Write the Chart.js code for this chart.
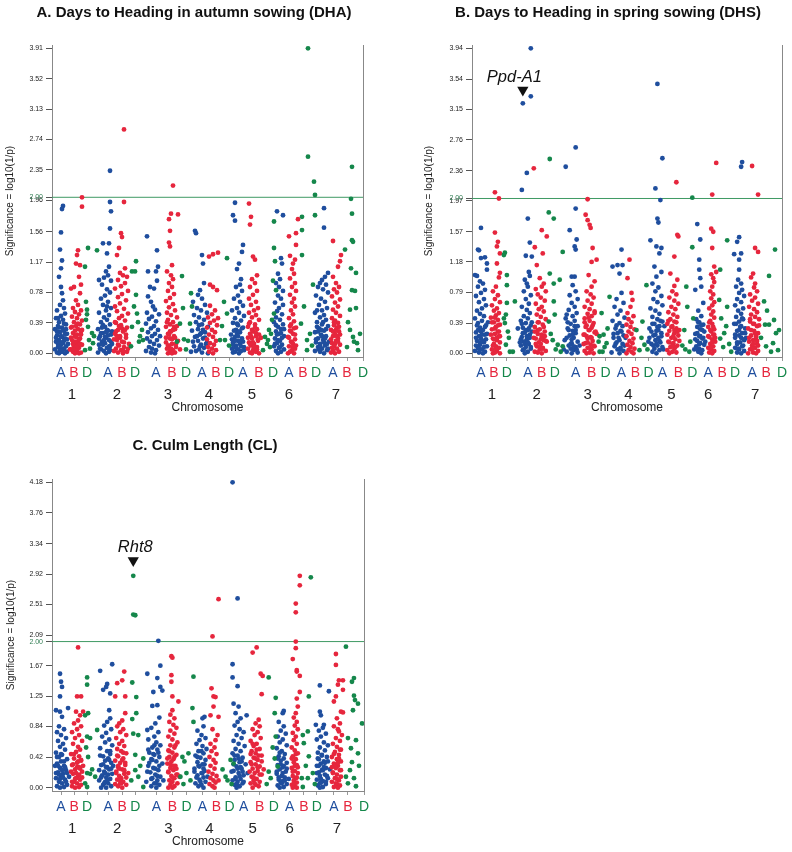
<!DOCTYPE html>
<html>
<head>
<meta charset="utf-8">
<script src="https://cdn.jsdelivr.net/npm/chart.js@4.4.1/dist/chart.umd.min.js"></script>
<style>
html, body { margin: 0; padding: 0; background: #fff; overflow: hidden; width: 792px; height: 852px; }
canvas { position: absolute; }
</style>
</head>
<body>
<canvas id="dhaChart" width="400" height="420" style="left:-6px;top:0"></canvas>
<canvas id="dhsChart" width="400" height="420" style="left:408px;top:0"></canvas>
<canvas id="clChart" width="400" height="432" style="left:5px;top:420px"></canvas>
<script>
// x axis: cumulative map position along the 21 chromosomes (arbitrary units)
const POS_MIN = 0, POS_MAX = 311;
const THRESHOLD = 2.00;

const genomes = ['A', 'B', 'D'];
const chromosomes = ['1', '2', '3', '4', '5', '6', '7'];
const genomePos = [9, 22, 35, 56, 70, 83, 104, 120, 134, 150, 164, 177, 191, 207, 221, 237, 251, 264, 281, 295, 311];
const chromPos = [20, 65, 116, 157, 200, 237, 284];

const dhaTicks = [0.00, 0.39, 0.78, 1.17, 1.56, 1.96, 2.00, 2.35, 2.74, 3.13, 3.52, 3.91];
const dhsTicks = [0.00, 0.39, 0.79, 1.18, 1.57, 1.97, 2.00, 2.36, 2.76, 3.15, 3.54, 3.94];
const clTicks = [0.00, 0.42, 0.84, 1.25, 1.67, 2.00, 2.09, 2.51, 2.92, 3.34, 3.76, 4.18];

// [position, log10(1/p)] -- DHA
const dhaA = [
  [11,1.89],[10,1.85],[9,1.55],[8,1.33],[10,1.19],[9,1.09],[7,.98],[9,.85],[10,.77],[11,.68],[8,.62],[12,.58],[5,.55],[13,.51],[9,.48],[4,.45],[11,.43],[7,.40],[14,.37],[6,.35],[10,.33],[3,.31],[12,.29],[8,.27],[15,.25],[5,.23],[10,.21],[13,.19],[7,.17],[4,.15],[11,.13],[9,.11],[14,.09],[6,.08],[12,.06],[3,.05],[8,.04],[10,.02],[15,.02],[5,.01],[13,.00],[7,.00],[16,.12],[11,.30],[6,.45],
  [4,.20],[6,.12],[9,.22],[12,.16],[14,.31],[5,.28],[8,.09],[11,.05],[13,.25],[7,.33],[10,.14],[15,.18],[12,.38],[9,.03],
  [58,2.34],[58,1.94],[59,1.82],[58,1.60],[51,1.41],[57,1.41],[55,1.28],[57,1.11],[47,.94],[54,1.05],[56,1.00],[52,.97],[59,.93],[50,.88],[55,.82],[58,.78],[53,.74],[49,.70],[56,.66],[51,.62],[59,.58],[54,.55],[47,.52],[57,.49],[52,.46],[55,.43],[49,.40],[58,.37],[53,.34],[46,.31],[56,.29],[51,.26],[59,.24],[48,.22],[54,.20],[57,.17],[50,.15],[53,.13],[47,.11],[58,.09],[55,.07],[49,.05],[52,.03],[57,.02],[46,.01],[54,.00],[60,.12],[51,.36],[55,.60],
  [47,.19],[49,.26],[51,.11],[53,.21],[55,.30],[57,.09],[59,.15],[48,.06],[50,.33],[52,.17],[56,.23],[58,.04],[54,.27],[60,.28],
  [95,1.50],[105,1.32],[96,1.05],[104,1.05],[106,1.11],[98,.85],[102,.83],[96,.73],[101,.60],[105,.93],[99,.66],[103,.56],[95,.52],[107,.50],[100,.47],[97,.44],[104,.41],[94,.38],[102,.35],[99,.32],[106,.30],[96,.27],[103,.25],[100,.22],[95,.19],[105,.17],[98,.15],[102,.12],[107,.10],[97,.08],[100,.06],[104,.04],[94,.03],[99,.01],[103,.00],[108,.22],
  [143,1.57],[144,1.54],[150,1.26],[151,1.15],[152,.90],[148,.81],[146,.75],[150,.70],[141,.66],[153,.62],[145,.58],[149,.55],[155,.52],[142,.49],[147,.46],[152,.43],[144,.40],[150,.37],[156,.34],[146,.31],[140,.29],[153,.27],[148,.24],[143,.21],[151,.19],[146,.16],[155,.14],[149,.11],[142,.09],[152,.07],[147,.05],[144,.03],[150,.01],[156,.00],[139,.02],
  [145,.22],[148,.09],[151,.30],[154,.12],[147,.36],[153,.20],[141,.15],[149,.26],
  [183,1.93],[181,1.77],[183,1.70],[190,1.30],[191,1.39],[187,1.15],[188,.88],[185,1.08],[189,.95],[184,.85],[190,.80],[186,.74],[182,.70],[188,.66],[191,.61],[185,.58],[180,.55],[187,.52],[192,.48],[183,.45],[189,.42],[181,.39],[186,.36],[191,.33],[184,.30],[188,.27],[179,.24],[183,.21],[190,.19],[186,.16],[181,.14],[188,.12],[184,.10],[192,.08],[180,.06],[186,.05],[189,.03],[183,.02],[187,.00],[181,.01],[191,.15],[185,.25],
  [180,.18],[182,.29],[184,.07],[186,.22],[188,.15],[190,.32],[192,.04],[181,.11],[185,.38],[187,.28],[189,.09],[183,.16],
  [225,1.82],[231,1.77],[229,1.22],[230,1.15],[227,.85],[226,1.02],[228,.95],[224,.90],[231,.80],[226,.74],[229,.70],[223,.65],[231,.62],[227,.58],[225,.54],[230,.50],[224,.46],[228,.43],[222,.40],[231,.37],[226,.34],[229,.31],[224,.28],[227,.25],[232,.22],[223,.19],[228,.16],[225,.13],[230,.11],[222,.09],[227,.07],[232,.05],[224,.03],[229,.02],[226,.00],
  [223,.12],[225,.24],[228,.08],[230,.20],[232,.31],[226,.17],[224,.36],[229,.26],
  [272,1.86],[272,1.61],[276,1.03],[270,.94],[273,.98],[268,.90],[274,.88],[266,.85],[271,.82],[276,.78],[264,.74],[269,.70],[273,.66],[267,.62],[275,.58],[270,.55],[263,.52],[272,.49],[268,.46],[274,.43],[265,.40],[270,.37],[276,.35],[267,.32],[272,.29],[263,.27],[269,.24],[274,.22],[266,.19],[271,.17],[264,.14],[268,.12],[273,.10],[266,.08],[270,.06],[275,.04],[263,.03],[268,.02],[272,.00],[277,.15],[265,.55],
  [264,.18],[266,.28],[268,.09],[270,.22],[272,.14],[274,.31],[276,.06],[265,.34],[267,.05],[271,.40],[273,.19],[269,.30],[275,.12]
];
const dhaB = [
  [30,2.00],[30,1.88],[26,1.32],[25,1.26],[24,1.15],[28,1.13],[27,.98],[29,.88],[19,.83],[28,.77],[24,.68],[22,.85],[26,.62],[21,.58],[29,.55],[23,.53],[27,.50],[20,.47],[25,.45],[30,.42],[22,.40],[28,.37],[24,.35],[19,.33],[26,.31],[29,.28],[21,.26],[25,.24],[23,.22],[28,.19],[20,.17],[26,.15],[24,.13],[30,.11],[22,.09],[27,.07],[19,.05],[25,.04],[21,.02],[29,.01],[23,.00],[27,.00],[18,.05],
  [19,.20],[21,.12],[23,.29],[25,.09],[27,.18],[29,.24],[20,.34],[22,.05],[24,.21],[26,.38],[28,.12],[30,.30],[23,.15],
  [72,2.87],[72,1.94],[69,1.54],[70,1.49],[67,1.35],[65,1.26],[73,1.09],[68,1.03],[71,1.00],[75,.98],[66,.94],[73,.90],[69,.86],[63,.83],[76,.80],[70,.76],[66,.72],[74,.68],[68,.64],[63,.60],[72,.57],[65,.54],[76,.51],[70,.48],[67,.45],[73,.42],[64,.39],[69,.36],[75,.33],[66,.30],[71,.28],[63,.25],[68,.22],[74,.20],[65,.17],[70,.15],[77,.12],[67,.10],[72,.08],[64,.06],[69,.04],[75,.02],[66,.01],[71,.00],[62,.03],
  [62,.18],[64,.28],[66,.11],[68,.20],[70,.32],[72,.14],[74,.24],[76,.06],[63,.40],[67,.35],[71,.04],[73,.30],[65,.22],
  [121,2.15],[119,1.79],[117,1.72],[126,1.78],[118,1.57],[117,1.42],[118,1.37],[120,1.13],[115,1.05],[119,1.00],[121,.95],[117,.90],[120,.85],[116,.80],[122,.76],[118,.71],[114,.67],[121,.63],[117,.59],[123,.55],[115,.52],[119,.49],[125,.46],[116,.43],[121,.40],[118,.37],[114,.34],[123,.31],[119,.28],[116,.25],[122,.22],[118,.19],[126,.16],[114,.14],[120,.12],[117,.10],[124,.08],[115,.06],[121,.04],[118,.02],[123,.01],[116,.00],[120,.00],[128,.05],
  [114,.20],[116,.10],[118,.28],[120,.18],[122,.34],[124,.12],[115,.40],[117,.24],[119,.06],[121,.30],[123,.20],[125,.35],
  [157,1.24],[161,1.27],[166,1.29],[158,.88],[161,.85],[165,.81],[158,.61],[163,.55],[160,.50],[156,.46],[162,.42],[158,.39],[165,.36],[155,.33],[160,.30],[163,.27],[157,.24],[161,.21],[155,.18],[164,.16],[158,.13],[162,.11],[156,.08],[160,.06],[164,.04],[157,.02],[161,.00],[166,.45],
  [197,1.92],[199,1.75],[198,1.65],[201,1.24],[203,1.20],[205,1.00],[200,.95],[203,.90],[198,.85],[205,.80],[201,.75],[197,.70],[204,.66],[199,.62],[206,.58],[202,.55],[197,.52],[204,.49],[200,.46],[207,.43],[198,.40],[203,.37],[196,.34],[205,.31],[201,.28],[198,.25],[204,.22],[200,.19],[206,.16],[197,.14],[202,.12],[199,.10],[205,.08],[196,.06],[201,.04],[204,.02],[198,.01],[207,.00],[200,.00],[209,.20],
  [196,.20],[198,.12],[200,.30],[202,.08],[204,.26],[206,.18],[197,.38],[199,.22],[201,.14],[203,.33],[205,.05],[207,.24],
  [237,1.50],[246,1.72],[244,1.54],[238,1.25],[244,1.39],[241,1.15],[243,1.20],[240,1.08],[242,1.02],[238,.96],[243,.90],[240,.85],[244,.80],[238,.75],[242,.70],[240,.65],[243,.60],[239,.55],[241,.50],[237,.45],[242,.41],[239,.37],[244,.33],[238,.29],[241,.25],[236,.21],[243,.18],[239,.15],[241,.12],[237,.09],[243,.06],[240,.04],[238,.02],[242,.00],[236,.00],
  [237,.20],[239,.28],[241,.08],[243,.24],[238,.35],[240,.14],[242,.32],[244,.10],
  [281,1.44],[289,1.26],[288,1.18],[286,1.11],[281,.98],[284,.90],[287,.85],[282,.82],[285,.78],[280,.73],[288,.69],[283,.65],[286,.60],[281,.56],[284,.52],[288,.48],[280,.45],[283,.42],[286,.39],[282,.36],[285,.33],[279,.30],[287,.28],[283,.25],[281,.22],[286,.19],[284,.16],[280,.13],[288,.11],[282,.09],[285,.06],[281,.04],[287,.02],[283,.00],[279,.01],
  [279,.18],[281,.28],[283,.12],[285,.22],[287,.34],[280,.07],[282,.40],[284,.30],[286,.15],[288,.24]
];
const dhaD = [
  [36,1.35],[45,1.32],[33,1.11],[34,.66],[35,.56],[34,.43],[36,.34],[40,.26],[37,.17],[41,.13],[33,.04],[38,.06],[35,.50],[42,.22],
  [80,1.05],[83,1.05],[84,1.18],[84,.75],[82,.60],[85,.51],[80,.34],[90,.30],[91,.17],[87,.15],[79,.09],[86,.40],[88,.22],
  [130,.99],[131,.58],[128,.38],[132,.18],[125,.15],[136,.16],[134,.05],[139,.77],[138,.38],[140,.60],
  [175,1.22],[172,.66],[175,.51],[168,.17],[173,.17],[170,.35],[177,.10],
  [213,.21],[216,.17],[211,.04],[215,.12],[218,.08],[222,1.69],[222,1.35],[223,1.18],[221,.93],[224,.81],[222,.51],[220,.43],[219,.25],[217,.30],
  [250,1.75],[250,1.58],[250,1.26],[249,.38],[255,.04],[256,3.91],[256,2.52],[262,2.20],[263,2.03],[263,1.77],[261,.88],[255,.17],[252,.60],[258,.25],[260,.10],
  [300,2.39],[299,1.98],[300,1.79],[300,1.45],[301,1.43],[293,1.33],[299,1.09],[304,1.03],[300,.81],[303,.80],[298,.56],[304,.58],[298,.30],[301,.21],[305,.13],[306,.04],[296,.40],[302,.15],[295,.08],[308,.25]
];

// DHS
const dhsA = [
  [9,1.62],[6,1.34],[7,1.33],[9,1.23],[13,1.24],[15,1.16],[3,1.01],[5,1.00],[15,1.08],[8,.93],[11,.90],[6,.86],[13,.82],[9,.78],[4,.74],[12,.70],[7,.66],[14,.62],[10,.58],[5,.55],[8,.51],[12,.48],[3,.45],[10,.42],[6,.39],[14,.36],[8,.33],[11,.30],[4,.27],[13,.24],[7,.22],[9,.19],[5,.16],[12,.14],[8,.11],[15,.09],[6,.07],[10,.05],[3,.03],[13,.02],[7,.01],[11,.00],[4,.10],[16,.40],
  [4,.20],[6,.30],[8,.14],[10,.24],[12,.08],[14,.18],[5,.36],[7,.06],[9,.28],[11,.16],[13,.34],[15,.25],
  [59,3.94],[59,3.32],[51,3.23],[55,2.33],[50,2.11],[56,1.74],[58,1.43],[54,1.26],[60,1.25],[57,1.05],[55,.90],[46,.32],[58,1.00],[53,.95],[56,.86],[52,.80],[59,.75],[54,.70],[57,.64],[50,.60],[55,.56],[58,.52],[52,.48],[56,.45],[49,.42],[54,.39],[59,.36],[51,.33],[56,.30],[53,.27],[58,.24],[50,.21],[55,.18],[52,.15],[57,.12],[49,.10],[54,.08],[59,.06],[51,.04],[56,.02],[53,.00],[48,.14],[60,.40],
  [49,.18],[51,.26],[53,.12],[55,.22],[57,.32],[59,.08],[50,.38],[52,.05],[54,.30],[56,.14],[58,.20],[60,.28],
  [94,2.41],[104,2.66],[104,1.87],[98,1.59],[105,1.47],[103,1.38],[104,1.34],[100,.99],[103,.99],[95,.50],[101,.88],[104,.80],[98,.75],[106,.70],[100,.65],[103,.60],[97,.56],[105,.52],[101,.48],[94,.45],[103,.42],[99,.38],[106,.35],[96,.32],[101,.29],[104,.26],[98,.23],[102,.20],[93,.17],[106,.15],[100,.13],[97,.10],[104,.08],[99,.06],[102,.04],[95,.02],[106,.01],[100,.00],[92,.05],[108,.10],
  [95,.20],[97,.30],[99,.12],[101,.24],[103,.35],[105,.05],[96,.40],[100,.18],[102,.09],[104,.30],
  [150,1.34],[141,1.12],[146,1.14],[151,1.14],[148,1.03],[150,.78],[145,.70],[152,.65],[143,.60],[149,.55],[146,.50],[153,.46],[141,.42],[148,.39],[151,.35],[144,.32],[149,.29],[146,.26],[152,.23],[142,.20],[148,.17],[145,.14],[151,.12],[143,.09],[149,.07],[146,.05],[152,.03],[140,.01],[148,.00],[154,.20],
  [142,.25],[144,.12],[147,.20],[150,.28],[153,.10],[145,.36],[149,.05],
  [186,3.48],[191,2.52],[184,2.13],[189,1.98],[186,1.74],[187,1.69],[179,1.46],[185,1.38],[190,1.36],[183,1.12],[185,.99],[188,1.29],[190,1.05],[181,.90],[187,.85],[184,.80],[190,.74],[182,.70],[186,.66],[191,.62],[179,.58],[184,.55],[188,.51],[181,.47],[186,.44],[191,.41],[183,.38],[188,.35],[178,.32],[185,.29],[190,.26],[182,.23],[187,.20],[184,.17],[189,.14],[180,.12],[186,.10],[191,.08],[183,.06],[188,.04],[181,.02],[185,.00],[177,.15],[193,.35],
  [178,.20],[180,.28],[182,.10],[184,.24],[186,.34],[188,.16],[190,.22],[192,.05],[181,.38],[185,.12],[187,.30],[189,.42],
  [226,1.67],[229,1.47],[228,1.21],[228,1.08],[229,.97],[230,.86],[224,.82],[232,.65],[227,.55],[230,.48],[225,.44],[228,.40],[232,.37],[226,.34],[229,.31],[233,.28],[224,.25],[228,.22],[231,.19],[226,.16],[229,.13],[233,.11],[225,.09],[228,.06],[231,.04],[227,.02],[230,.00],[234,.15],[223,.05],
  [224,.18],[226,.26],[228,.12],[230,.36],[232,.20],[225,.06],[227,.40],[231,.30],[229,.22],
  [271,2.47],[270,2.41],[268,1.50],[266,1.44],[270,1.29],[263,1.28],[268,1.21],[268,1.08],[267,.95],[270,.90],[265,.86],[271,.82],[268,.78],[273,.74],[266,.70],[270,.66],[264,.62],[272,.58],[267,.55],[270,.51],[265,.47],[272,.44],[268,.41],[263,.38],[270,.35],[274,.32],[266,.29],[271,.26],[268,.23],[264,.20],[273,.17],[269,.14],[266,.12],[271,.09],[264,.07],[268,.05],[273,.03],[266,.01],[270,.00],[275,.20],
  [264,.24],[266,.14],[268,.30],[270,.20],[272,.10],[274,.26],[265,.38],[267,.06],[269,.34],[271,.45],[273,.18]
];
const dhsB = [
  [23,2.08],[27,2.00],[23,1.56],[26,1.44],[25,1.38],[28,1.29],[25,1.16],[28,1.04],[24,.86],[27,.98],[21,.80],[26,.75],[23,.70],[28,.66],[20,.62],[25,.58],[22,.55],[27,.52],[24,.49],[19,.46],[26,.43],[22,.40],[28,.37],[24,.34],[20,.31],[26,.28],[23,.25],[27,.22],[21,.19],[25,.17],[28,.14],[22,.12],[24,.09],[27,.07],[20,.05],[25,.03],[23,.01],[28,.00],[21,.00],
  [19,.24],[21,.10],[23,.32],[25,.20],[27,.28],[20,.40],[22,.18],[24,.06],[26,.36],[28,.22],[23,.46],
  [62,2.39],[70,1.59],[75,1.51],[63,1.37],[71,1.29],[65,1.14],[68,.97],[64,.83],[72,.90],[70,.86],[74,.80],[66,.76],[69,.72],[73,.68],[64,.64],[70,.60],[67,.57],[72,.54],[65,.50],[69,.47],[74,.44],[66,.40],[71,.37],[63,.34],[68,.31],[73,.28],[66,.25],[70,.22],[64,.19],[72,.17],[67,.14],[69,.12],[65,.09],[71,.07],[68,.05],[74,.03],[66,.01],[70,.00],[63,.02],[75,.15],
  [62,.20],[64,.12],[66,.30],[68,.08],[70,.24],[72,.34],[74,.16],[63,.28],[67,.40],[69,.18],[71,.06],[73,.22],
  [116,1.99],[114,1.79],[116,1.72],[118,1.66],[119,1.62],[121,1.36],[120,1.18],[125,1.21],[117,1.01],[120,.86],[123,.93],[115,.80],[119,.76],[122,.72],[116,.68],[120,.64],[113,.60],[118,.57],[123,.54],[116,.51],[120,.48],[113,.45],[118,.42],[122,.39],[115,.36],[120,.33],[117,.30],[123,.27],[113,.24],[119,.21],[116,.19],[121,.16],[114,.13],[119,.11],[123,.09],[116,.07],[120,.05],[113,.03],[118,.01],[122,.00],[115,.00],[125,.25],[112,.12],
  [112,.24],[114,.34],[116,.14],[118,.30],[120,.20],[122,.10],[124,.28],[113,.40],[117,.46],[119,.06],[121,.36],[123,.52],[115,.22],
  [158,1.21],[156,.97],[160,.78],[161,.69],[156,.52],[159,.60],[162,.48],[157,.44],[160,.40],[155,.37],[159,.34],[163,.31],[157,.28],[160,.25],[155,.22],[162,.19],[158,.16],[161,.13],[156,.11],[159,.08],[163,.06],[157,.04],[160,.02],[155,.00],[162,.00],
  [205,2.21],[206,1.53],[207,1.51],[203,1.25],[199,1.03],[203,.87],[206,.95],[201,.80],[205,.76],[198,.72],[203,.68],[207,.64],[200,.60],[204,.57],[197,.53],[202,.50],[206,.47],[199,.44],[203,.41],[196,.38],[201,.35],[205,.32],[198,.29],[203,.26],[207,.23],[200,.20],[204,.18],[197,.15],[202,.13],[206,.10],[199,.08],[203,.06],[196,.04],[201,.02],[205,.01],[198,.00],[208,.30],
  [196,.24],[198,.14],[200,.34],[202,.22],[204,.08],[206,.28],[208,.16],[197,.42],[201,.10],[205,.40],[203,.30],
  [245,2.46],[241,2.05],[240,1.61],[242,1.57],[241,1.36],[243,1.12],[242,.97],[240,1.02],[243,.92],[241,.86],[239,.80],[242,.76],[240,.71],[243,.66],[241,.62],[238,.58],[242,.54],[240,.50],[243,.46],[239,.42],[241,.38],[237,.34],[243,.31],[240,.28],[242,.24],[238,.21],[241,.18],[244,.15],[239,.12],[242,.09],[237,.07],[240,.05],[243,.03],[238,.01],[241,.00],[245,1.05],
  [237,.22],[239,.30],[241,.14],[243,.24],[238,.40],[240,.08],[242,.34],[244,.20],
  [281,2.42],[287,2.05],[284,1.36],[287,1.31],[282,1.03],[284,.90],[280,.98],[283,.85],[286,.80],[279,.76],[284,.72],[281,.68],[287,.64],[278,.60],[283,.57],[286,.53],[280,.50],[284,.47],[288,.44],[279,.41],[282,.38],[286,.35],[277,.32],[283,.29],[287,.26],[280,.23],[285,.20],[282,.17],[278,.15],[286,.12],[281,.10],[284,.07],[279,.05],[287,.03],[282,.01],[285,.00],[277,.00],
  [278,.20],[280,.30],[282,.12],[284,.26],[286,.16],[288,.36],[279,.44],[281,.06],[283,.38],[285,.22],[287,.10]
];
const dhsD = [
  [33,1.30],[32,1.27],[35,1.01],[35,.88],[35,.65],[34,.50],[33,.39],[36,.28],[34,.11],[38,.02],[43,.67],[41,.02],[37,.20],[32,.45],
  [78,2.51],[77,1.82],[82,1.74],[78,1.03],[82,.90],[91,1.31],[88,.95],[82,.67],[83,.50],[77,.41],[81,.17],[86,.11],[91,.09],[79,.25],[84,.05],[89,.02],
  [130,.52],[128,.22],[132,.24],[138,.73],[135,.13],[128,.02],[131,.02],[136,.32],[133,.08],[127,.15],
  [175,.88],[171,.41],[168,.04],[173,.11],[165,.30],[170,.20],[176,.05],
  [221,2.01],[221,1.37],[215,.86],[218,.02],[213,.30],[216,.60],[219,.15],[211,.10],[222,.45],[214,.05],
  [256,1.46],[249,1.08],[249,.19],[253,.26],[256,.60],[248,.69],[252,.08],[258,.12],[255,.35],[260,.02],[250,.45],
  [304,1.34],[298,1.00],[293,.67],[303,.43],[298,.37],[305,.26],[295,.09],[307,.04],[294,.37],[302,.13],[290,.20],[300,.02],[308,.30],[296,.55]
];

// CL
const clA = [
  [8,1.56],[9,1.45],[10,1.38],[8,1.25],[4,1.06],[8,1.04],[16,1.09],[10,.97],[7,.84],[12,.80],[5,.76],[9,.72],[14,.68],[6,.64],[11,.60],[8,.56],[13,.52],[4,.48],[10,.45],[7,.42],[15,.39],[9,.36],[5,.33],[12,.30],[8,.27],[14,.24],[6,.21],[11,.19],[9,.16],[4,.13],[13,.11],[7,.08],[10,.06],[15,.04],[5,.02],[12,.01],[8,.00],[3,.30],[17,.15],
  [4,.20],[6,.30],[8,.12],[10,.24],[12,.36],[14,.08],[5,.42],[7,.18],[9,.46],[11,.14],[13,.28],[15,.20],
  [48,1.60],[60,1.69],[55,1.42],[54,1.38],[58,1.29],[51,1.34],[57,1.06],[58,.95],[55,.90],[52,.85],[59,.80],[54,.75],[50,.70],[57,.66],[53,.62],[60,.58],[48,.54],[55,.50],[58,.46],[51,.43],[56,.40],[53,.37],[59,.34],[49,.31],[55,.28],[57,.25],[52,.22],[60,.19],[50,.17],[54,.14],[58,.12],[47,.10],[53,.08],[56,.06],[51,.04],[59,.02],[54,.00],[49,.00],[61,.30],
  [47,.24],[49,.14],[51,.32],[53,.20],[55,.10],[57,.38],[59,.26],[48,.44],[52,.06],[54,.28],[56,.18],[58,.50],
  [106,2.01],[95,1.56],[108,1.67],[105,1.50],[108,1.38],[110,1.33],[101,1.31],[105,1.13],[100,1.12],[107,.96],[95,.79],[103,.88],[99,.82],[106,.76],[102,.70],[96,.66],[104,.62],[108,.58],[100,.55],[105,.52],[97,.48],[102,.45],[107,.42],[99,.39],[104,.36],[110,.33],[96,.30],[101,.27],[106,.24],[98,.21],[103,.18],[108,.15],[100,.13],[105,.10],[94,.08],[102,.06],[107,.04],[99,.02],[104,.00],[111,.10],
  [95,.22],[97,.34],[99,.12],[101,.46],[103,.26],[105,.16],[107,.30],[96,.52],[100,.38],[104,.06],[106,.48],[102,.58],
  [152,.97],[150,.95],[151,.84],[145,.78],[149,.72],[153,.68],[147,.65],[144,.60],[150,.57],[154,.53],[146,.50],[151,.47],[143,.44],[148,.41],[153,.38],[145,.35],[150,.32],[147,.29],[142,.26],[152,.23],[149,.20],[145,.17],[151,.14],[147,.11],[153,.08],[143,.06],[149,.04],[146,.02],[151,.00],[155,.15],
  [142,.22],[144,.14],[146,.30],[148,.08],[150,.20],[152,.32],[145,.42],[149,.50],[151,.26],
  [180,4.18],[185,2.59],[180,1.69],[180,1.51],[185,1.39],[181,1.15],[186,1.11],[183,1.02],[194,.99],[185,.90],[188,.95],[182,.85],[187,.80],[191,.76],[184,.72],[189,.68],[181,.64],[186,.60],[192,.57],[183,.53],[188,.50],[180,.47],[185,.44],[190,.41],[182,.38],[187,.35],[193,.32],[184,.29],[189,.26],[181,.23],[186,.20],[191,.17],[183,.14],[188,.12],[180,.10],[185,.08],[190,.06],[182,.04],[187,.02],[184,.00],[195,.20],
  [179,.22],[181,.32],[183,.12],[185,.26],[187,.16],[189,.36],[191,.08],[182,.44],[186,.40],[188,.28],[184,.05],[190,.22],
  [231,1.05],[230,1.02],[226,.90],[231,.84],[228,.78],[233,.74],[225,.70],[230,.66],[227,.62],[234,.58],[224,.54],[229,.50],[232,.46],[226,.43],[231,.40],[228,.37],[234,.34],[225,.31],[230,.28],[227,.25],[233,.22],[224,.19],[229,.16],[232,.14],[226,.11],[230,.09],[228,.07],[234,.05],[225,.03],[231,.01],[227,.00],[236,.12],
  [224,.22],[226,.14],[228,.32],[230,.20],[232,.10],[234,.26],[225,.40],[229,.06],[231,.30],[227,.48],
  [267,1.40],[276,1.32],[267,1.04],[268,.99],[271,.86],[263,.86],[270,.82],[266,.78],[273,.74],[268,.70],[264,.66],[271,.62],[275,.58],[267,.55],[272,.51],[265,.48],[269,.45],[274,.42],[266,.39],[271,.36],[268,.33],[264,.30],[273,.27],[269,.24],[266,.21],[272,.18],[267,.16],[275,.13],[264,.11],[270,.09],[268,.07],[273,.05],[265,.03],[270,.01],[267,.00],[277,.25],
  [264,.20],[266,.30],[268,.12],[270,.24],[272,.34],[274,.16],[265,.40],[267,.06],[269,.44],[271,.28],[273,.08],[275,.36]
];
const clB = [
  [26,1.92],[25,1.25],[29,1.25],[24,1.04],[31,1.04],[28,.99],[26,.92],[22,.88],[29,.84],[25,.80],[20,.76],[27,.72],[23,.68],[30,.64],[21,.60],[26,.56],[28,.52],[24,.49],[19,.46],[27,.43],[22,.40],[29,.37],[25,.34],[20,.31],[27,.28],[23,.25],[30,.22],[21,.19],[26,.16],[24,.13],[28,.11],[22,.08],[25,.06],[29,.04],[20,.02],[27,.01],[23,.00],[31,.30],
  [19,.22],[21,.32],[23,.12],[25,.28],[27,.18],[29,.38],[20,.08],[22,.46],[24,.20],[26,.36],[28,.26],[30,.14],
  [72,1.59],[65,1.43],[70,1.47],[63,1.25],[73,1.25],[73,1.02],[67,.88],[70,.92],[65,.84],[71,.80],[68,.76],[74,.72],[64,.68],[70,.64],[67,.60],[72,.57],[65,.53],[69,.50],[74,.47],[66,.43],[71,.40],[63,.37],[68,.34],[73,.31],[66,.28],[70,.25],[64,.22],[72,.19],[67,.16],[69,.13],[65,.11],[71,.08],[68,.06],[74,.04],[66,.02],[70,.00],[63,.05],[76,.20],
  [64,.20],[66,.30],[68,.10],[70,.38],[72,.24],[74,.14],[65,.44],[67,.26],[69,.06],[71,.48],[73,.34],
  [119,1.80],[120,1.78],[119,1.54],[119,1.45],[120,1.25],[126,1.18],[120,1.06],[118,1.00],[122,.95],[117,.90],[121,.86],[124,.82],[118,.78],[122,.74],[116,.70],[120,.66],[125,.62],[118,.58],[122,.55],[116,.51],[120,.48],[124,.45],[117,.42],[121,.39],[119,.36],[115,.33],[123,.30],[118,.27],[121,.24],[116,.21],[124,.18],[119,.16],[122,.13],[117,.10],[120,.08],[125,.06],[118,.04],[122,.02],[116,.00],[120,.00],[127,.15],
  [116,.22],[118,.32],[120,.14],[122,.42],[124,.26],[117,.50],[119,.08],[121,.30],[123,.58],[125,.18],[115,.40],
  [166,2.58],[160,2.07],[159,1.36],[161,1.25],[163,1.24],[158,.99],[166,.97],[161,1.11],[165,.72],[160,.80],[163,.65],[158,.60],[162,.55],[159,.50],[164,.46],[157,.42],[161,.38],[163,.34],[158,.30],[162,.26],[156,.22],[160,.19],[164,.16],[158,.13],[161,.10],[163,.07],[157,.05],[160,.02],[162,.00],[166,.10],
  [200,1.85],[204,1.92],[208,1.56],[210,1.53],[209,1.28],[206,.93],[203,.88],[207,.84],[200,.80],[205,.76],[202,.72],[208,.68],[198,.64],[204,.60],[201,.57],[207,.53],[199,.50],[203,.47],[209,.44],[201,.41],[205,.38],[198,.35],[203,.32],[207,.29],[200,.26],[205,.23],[202,.20],[209,.18],[199,.15],[204,.12],[201,.10],[207,.08],[198,.06],[203,.04],[206,.02],[200,.00],[211,.25],
  [197,.22],[199,.32],[201,.14],[203,.40],[205,.28],[207,.18],[209,.36],[198,.46],[202,.06],[204,.52],[206,.44],[200,.60],
  [247,2.90],[247,2.77],[243,2.52],[243,2.40],[243,2.00],[243,1.91],[240,1.76],[244,1.61],[244,1.59],[247,1.53],[247,1.31],[244,1.22],[245,1.11],[243,1.02],[241,.96],[244,.90],[242,.85],[245,.80],[240,.75],[243,.70],[241,.65],[244,.60],[239,.55],[242,.51],[245,.47],[240,.43],[243,.39],[241,.35],[244,.31],[239,.27],[242,.23],[245,.20],[240,.16],[243,.13],[241,.10],[244,.07],[239,.04],[242,.02],[240,.00],[244,.00],
  [240,.22],[242,.30],[244,.14],[239,.40],[241,.06],[243,.46],[245,.28],
  [283,1.83],[283,1.68],[286,1.47],[290,1.47],[285,1.41],[290,1.34],[281,1.18],[283,1.25],[288,1.04],[290,1.03],[286,.77],[284,.95],[287,.88],[281,.84],[285,.80],[289,.72],[283,.68],[287,.64],[280,.60],[284,.56],[288,.52],[282,.49],[286,.45],[279,.42],[284,.39],[288,.36],[281,.33],[285,.30],[283,.27],[287,.24],[280,.21],[284,.18],[288,.15],[282,.13],[286,.10],[279,.08],[284,.05],[287,.03],[281,.01],[285,.00],
  [280,.20],[282,.30],[284,.12],[286,.40],[288,.24],[281,.46],[283,.06],[285,.34],[287,.52],[279,.28]
];
const clD = [
  [35,1.51],[35,1.41],[36,1.02],[33,.99],[45,.79],[35,.70],[38,.68],[36,.42],[35,.20],[38,.19],[43,.15],[33,.06],[35,.01],[40,.25],[34,.55],
  [81,2.90],[81,2.37],[83,2.36],[80,1.44],[84,1.24],[84,1.02],[80,.94],[86,.72],[81,.74],[83,.45],[91,.40],[86,.15],[91,.01],[83,.24],[88,.30],[79,.10],
  [141,1.52],[130,.42],[132,.36],[128,.15],[136,.47],[140,1.09],[141,.90],[134,.20],[138,.10],[131,.05],
  [178,.38],[173,.15],[181,.33],[175,.10],[170,.25],[179,.05],
  [216,1.51],[223,1.23],[222,1.02],[223,.70],[222,.40],[216,.22],[218,.13],[225,.29],[214,.05],[220,.55],
  [258,2.88],[256,1.25],[255,.77],[250,.72],[251,.61],[256,.43],[250,.01],[255,.13],[249,.13],[260,.20],[253,.30],[262,.05],
  [293,1.93],[301,1.50],[299,1.45],[301,1.26],[302,1.20],[305,1.15],[300,1.06],[309,.88],[295,.68],[303,.65],[298,.54],[305,.47],[297,.24],[301,.13],[295,.06],[306,.30],[299,.35],[303,.02],[293,.15]
];

// gene labels: text anchor and arrowhead anchor in data units
const ppdNote = { text: 'Ppd-A1', x: 42.5, y: 3.57, markX: 51, markY: 3.40 };
const rhtNote = { text: 'Rht8', x: 83, y: 3.29, markX: 81, markY: 3.11 };

const BLUE = '#1f4e9e', RED = '#e6263d', GREEN = '#15874b';
const genomeColors = [BLUE, RED, GREEN];
const LINE_GREEN = '#3f9a64';

Chart.defaults.font.family = '"Liberation Sans", Arial, Helvetica, sans-serif';
Chart.defaults.color = '#222';

const notePlugin = {
  id: 'note',
  afterDatasetsDraw(chart, args, opts) {
    if (!opts || !opts.text) return;
    const { ctx, scales } = chart;
    ctx.save();
    ctx.font = 'italic 16.5px "Liberation Sans", Arial, sans-serif';
    ctx.fillStyle = '#111';
    ctx.textAlign = 'center';
    ctx.textBaseline = 'middle';
    ctx.fillText(opts.text, scales.x.getPixelForValue(opts.x), scales.y.getPixelForValue(opts.y));
    ctx.restore();
  }
};

function makeChart(id, p) {
  const datasets = [
    { type: 'line', data: [[POS_MIN, THRESHOLD], [POS_MAX, THRESHOLD]], borderColor: LINE_GREEN,
      borderWidth: 1, pointRadius: 0, order: 10 },
    { data: p.a, backgroundColor: BLUE, pointRadius: 2.4, pointBorderWidth: 0, order: 3 },
    { data: p.b, backgroundColor: RED, pointRadius: 2.4, pointBorderWidth: 0, order: 2 },
    { data: p.d, backgroundColor: GREEN, pointRadius: 2.4, pointBorderWidth: 0, order: 1 }
  ];
  if (p.note) {
    datasets.push({ data: [[p.note.markX, p.note.markY]], pointStyle: 'triangle', pointRotation: 180,
      pointRadius: 6.5, backgroundColor: '#111', pointBorderWidth: 0, order: 0 });
  }
  new Chart(document.getElementById(id), {
    type: 'scatter',
    data: { datasets },
    plugins: [notePlugin],
    options: {
      responsive: false,
      animation: false,
      devicePixelRatio: 1,
      events: [],
      layout: { padding: { left: 0, right: 0, top: 0, bottom: p.padBottom } },
      plugins: {
        legend: { display: false },
        tooltip: { enabled: false },
        title: { display: true, text: p.title, color: '#111',
          font: { size: 15, weight: 'bold' }, padding: p.titlePad },
        note: p.note || false
      },
      scales: {
        x: {
          type: 'linear', position: 'bottom', min: POS_MIN, max: POS_MAX,
          afterBuildTicks: s => { s.ticks = genomePos.map(v => ({ value: v })); },
          afterFit: s => { s.height = 20; },
          ticks: { autoSkip: false, maxRotation: 0, padding: 4, font: { size: 14 },
            color: ctx => genomeColors[ctx.index % 3],
            callback: (v, i) => genomes[i % 3] },
          grid: { drawOnChartArea: false, tickLength: 4, color: '#999' },
          border: { color: '#888' }
        },
        x2: {
          type: 'linear', position: 'bottom', min: POS_MIN, max: POS_MAX,
          afterBuildTicks: s => { s.ticks = chromPos.map(v => ({ value: v })); },
          afterFit: s => { s.height = 38; },
          ticks: { autoSkip: false, maxRotation: 0, padding: 1, font: { size: 15 }, color: '#222',
            callback: (v, i) => chromosomes[i] },
          grid: { display: false },
          border: { display: false },
          title: { display: true, text: 'Chromosome', font: { size: 12 }, color: '#222',
            padding: { top: 0, bottom: 0 } }
        },
        y: {
          type: 'linear', position: 'left', min: p.yMin, max: p.yMax,
          afterBuildTicks: s => { s.ticks = p.ticks.map(v => ({ value: v })); },
          afterFit: s => { s.width = p.yWidth; },
          ticks: { autoSkip: false, padding: 3, font: { size: 7 },
            color: ctx => ctx.tick && ctx.tick.value === THRESHOLD ? '#2f7d52' : '#222',
            callback: v => v.toFixed(2) },
          grid: { drawOnChartArea: false, tickLength: 6, color: '#555' },
          border: { color: '#888' },
          title: { display: true, text: 'Significance = log10(1/p)', font: { size: 10 }, color: '#222',
            padding: { top: p.yTitlePad, bottom: 0 } }
        },
        y2: {
          type: 'linear', position: 'right', min: p.yMin, max: p.yMax,
          afterFit: s => { s.width = p.rightWidth; },
          ticks: { display: false },
          grid: { drawOnChartArea: false, drawTicks: false },
          border: { color: '#888' }
        }
      }
    }
  });
}

makeChart('dhaChart', {
  title: 'A. Days to Heading in autumn sowing (DHA)',
  a: dhaA, b: dhaB, d: dhaD, ticks: dhaTicks, yMin: -0.047, yMax: 3.952,
  yWidth: 58, rightWidth: 31, yTitlePad: 10, titlePad: { top: 4, bottom: 23 }, padBottom: 5
});
makeChart('dhsChart', {
  title: 'B. Days to Heading in spring sowing (DHS)',
  a: dhsA, b: dhsB, d: dhsD, ticks: dhsTicks, yMin: -0.048, yMax: 3.983,
  yWidth: 64, rightWidth: 26, yTitlePad: 15, titlePad: { top: 4, bottom: 23 }, padBottom: 5,
  note: ppdNote
});
makeChart('clChart', {
  title: 'C. Culm Length (CL)',
  a: clA, b: clB, d: clD, ticks: clTicks, yMin: -0.045, yMax: 4.225,
  yWidth: 47, rightWidth: 41, yTitlePad: 0, titlePad: { top: 17, bottom: 24 }, padBottom: 3,
  note: rhtNote
});
</script>
</body>
</html>
